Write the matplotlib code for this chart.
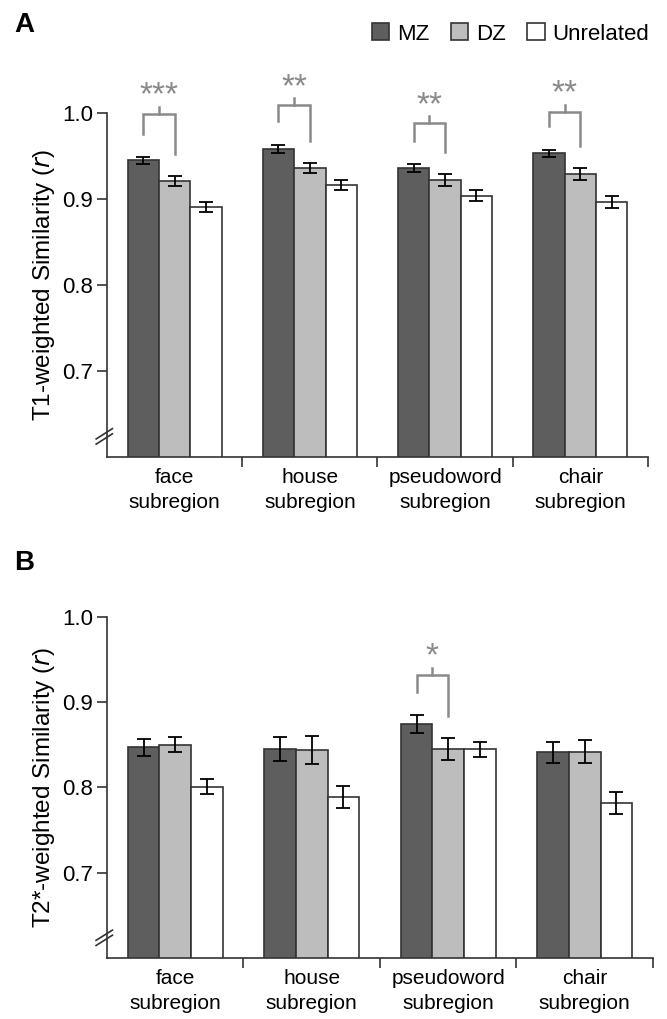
import numpy as np
import matplotlib
matplotlib.use("Agg")
import matplotlib.pyplot as plt
from matplotlib.patches import Patch

plt.rcParams['font.family'] = ['Liberation Sans', 'DejaVu Sans']

categories = ["face\nsubregion", "house\nsubregion", "pseudoword\nsubregion", "chair\nsubregion"]
groups = ["MZ", "DZ", "Unrelated"]
colors = ["#5e5e5e", "#bdbdbd", "#ffffff"]

# panel A: T1-weighted similarity
t1_mz = [0.945, 0.9585, 0.936, 0.953]
t1_dz = [0.921, 0.936, 0.922, 0.929]
t1_un = [0.891, 0.916, 0.904, 0.8965]
t1_mz_err = [0.004, 0.0047, 0.005, 0.0045]
t1_dz_err = [0.0054, 0.006, 0.0068, 0.007]
t1_un_err = [0.006, 0.006, 0.006, 0.0074]
t1_sig = ["***", "**", "**", "**"]
t1_bracket = [0.999, 1.009, 0.988, 1.001]

# panel B: T2*-weighted similarity
t2_mz = [0.847, 0.845, 0.874, 0.841]
t2_dz = [0.850, 0.844, 0.845, 0.842]
t2_un = [0.801, 0.789, 0.845, 0.782]
t2_mz_err = [0.0097, 0.014, 0.0103, 0.0127]
t2_dz_err = [0.009, 0.016, 0.0125, 0.0136]
t2_un_err = [0.0088, 0.013, 0.0088, 0.013]
t2_sig = ["", "", "*", ""]
t2_bracket = [None, None, 0.932, None]

fig = plt.figure(figsize=(6.67, 10.19), dpi=100)
axA = fig.add_axes([0.1604, 0.5515, 0.8111, 0.3376])
axB = fig.add_axes([0.1604, 0.0596, 0.8186, 0.3352])

bw = 0.232
x = np.arange(len(categories))
sig_col = "#8a8a8a"


def draw(ax, vals, errs, sig, brackets, ylab):
    for i, (v, e) in enumerate(zip(vals, errs)):
        ax.bar(x + (i - 1) * bw, v, bw, bottom=0, color=colors[i], edgecolor="#333333",
               linewidth=1.2, zorder=2)
        ax.errorbar(x + (i - 1) * bw, v, yerr=e, fmt="none", ecolor="black",
                    elinewidth=1.3, capsize=5, capthick=1.3, zorder=3)
    for k in range(len(categories)):
        if brackets[k] is None:
            continue
        xl = x[k] - bw
        xr = x[k]
        yl = vals[0][k] + errs[0][k] + 0.027
        yr = vals[1][k] + errs[1][k] + 0.026
        top = brackets[k]
        ax.plot([xl, xl, xr, xr], [yl, top, top, yr], color=sig_col, lw=1.8,
                clip_on=False, zorder=4, solid_joinstyle="miter")
        xm = (xl + xr) / 2
        ax.plot([xm, xm], [top, top + 0.008], color=sig_col, lw=1.8, clip_on=False, zorder=4)
        ax.text(xm, top + 0.011, sig[k], ha="center", va="baseline", color=sig_col,
                fontsize=24, clip_on=False)

    ax.set_xlim(-0.5, 3.5)
    ax.set_ylim(0.6, 1.0)
    ax.set_yticks([0.7, 0.8, 0.9, 1.0])
    ax.set_yticklabels(["0.7", "0.8", "0.9", "1.0"])
    ax.set_xticks([0.5, 1.5, 2.5, 3.5])
    ax.set_xticklabels([])
    ax.set_xticks(x, minor=True)
    ax.set_xticklabels(categories, minor=True, fontsize=15, linespacing=1.4)
    ax.tick_params(axis="x", which="minor", length=0, pad=8)
    ax.tick_params(axis="x", which="major", length=7, width=1.2, color="#333333", direction="out")
    ax.tick_params(axis="y", length=7, width=1.2, color="#333333", labelsize=16, pad=3)
    for s in ["top", "right"]:
        ax.spines[s].set_visible(False)
    for s in ["left", "bottom"]:
        ax.spines[s].set_color("#333333")
        ax.spines[s].set_linewidth(1.2)
    ax.set_ylabel(ylab, fontsize=17.5, labelpad=4)
    # axis break marks
    for dy in (0.0, 0.006):
        ax.plot([-0.58, -0.46], [0.615 + dy, 0.627 + dy], color="#333333", lw=1.2,
                clip_on=False, zorder=5)


draw(axA, [t1_mz, t1_dz, t1_un], [t1_mz_err, t1_dz_err, t1_un_err], t1_sig, t1_bracket,
     "T1-weighted Similarity ($\\it{r}$)")
draw(axB, [t2_mz, t2_dz, t2_un], [t2_mz_err, t2_dz_err, t2_un_err], t2_sig, t2_bracket,
     "T2*-weighted Similarity ($\\it{r}$)")

fig.text(0.021, 1 - 32 / 1019, "A", fontsize=20, fontweight="bold", ha="left", va="baseline")
fig.text(0.021, 1 - 570 / 1019, "B", fontsize=20, fontweight="bold", ha="left", va="baseline")

handles = [Patch(facecolor=c, edgecolor="#333333", linewidth=1.2) for c in colors]
fig.legend(handles, groups, loc="center right", bbox_to_anchor=(0.987, 1 - 34 / 1019),
           ncol=3, frameon=False, fontsize=16, handlelength=0.8, handleheight=0.8,
           handletextpad=0.35, columnspacing=0.95, borderaxespad=0)

fig.savefig("out.png", dpi=100)
